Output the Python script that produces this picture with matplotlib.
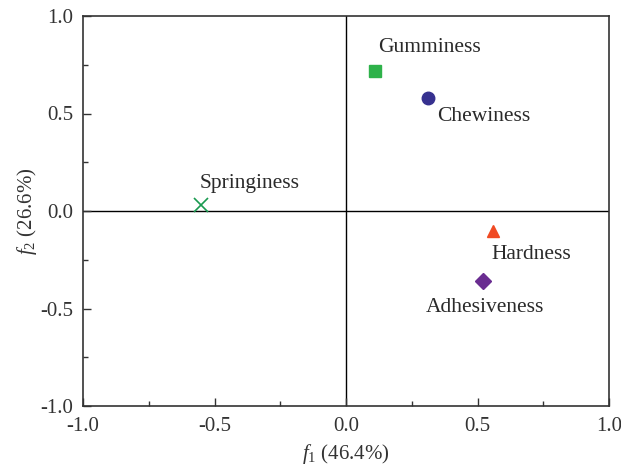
import matplotlib
matplotlib.use("Agg")
import matplotlib.pyplot as plt
from matplotlib.ticker import MultipleLocator, FuncFormatter

plt.rcParams['font.family'] = ['Liberation Serif', 'DejaVu Serif']
plt.rcParams['mathtext.fontset'] = 'custom'
plt.rcParams['mathtext.rm'] = 'Liberation Serif'
plt.rcParams['mathtext.it'] = 'Liberation Serif:italic'

names = ["Gumminess", "Chewiness", "Springiness", "Hardness", "Adhesiveness"]
f1 = [0.11, 0.31, -0.55, 0.56, 0.52]
f2 = [0.72, 0.58, 0.03, -0.10, -0.36]
markers = ["s", "o", "x", "^", "D"]
colors = ["#2eb24a", "#36318f", "#1a9a50", "#f04a23", "#6a2d91"]
sizes = [8, 9, 10, 9, 8]
label_offsets = [(3, 23), (10, -19), (-2, 22), (-2, -24), (-57, -26)]  # pixels

fig = plt.figure(figsize=(6.21, 4.68), dpi=100)
ax = fig.add_axes([83/621, 62/468, 526/621, 390/468])

ax.axhline(0, color="black", lw=1.0, zorder=1)
ax.axvline(0, color="black", lw=1.0, zorder=1)

for x, y, m, c, s, n, off in zip(f1, f2, markers, colors, sizes, names, label_offsets):
    if m == "x":
        ax.plot(x, y, marker=m, color=c, ms=s, mew=1.2, ls="none", zorder=3)
    else:
        ax.plot(x, y, marker=m, color=c, ms=s, mec=c, ls="none", zorder=3)
    ax.annotate(n, (x, y), xytext=off, textcoords="offset pixels",
                fontsize=15.5, color="#2a2a2a", ha="left", va="center")

ax.set_xlim(-1, 1)
ax.set_ylim(-1, 1)
ax.xaxis.set_major_locator(MultipleLocator(0.5))
ax.yaxis.set_major_locator(MultipleLocator(0.5))
ax.xaxis.set_minor_locator(MultipleLocator(0.25))
ax.yaxis.set_minor_locator(MultipleLocator(0.25))
ax.tick_params(which="both", direction="in", top=False, right=False, labelsize=15, colors="#333333")
ax.tick_params(which="major", length=6, width=1)
ax.tick_params(which="minor", length=3.5, width=1)
ax.tick_params(axis="x", which="major", pad=8)
ax.tick_params(axis="y", which="major", pad=7)
for sp in ax.spines.values():
    sp.set_color("#333333")
    sp.set_linewidth(1.2)
fmt = FuncFormatter(lambda v, p: f"{v:.1f}")
ax.xaxis.set_major_formatter(fmt)
ax.yaxis.set_major_formatter(fmt)

ax.set_xlabel(r"$f_1$ (46.4%)", fontsize=15, color="#333333", labelpad=4)
ax.set_ylabel(r"$f_2$ (26.6%)", fontsize=15, color="#333333", labelpad=1)

fig.savefig("out.png", dpi=100)
